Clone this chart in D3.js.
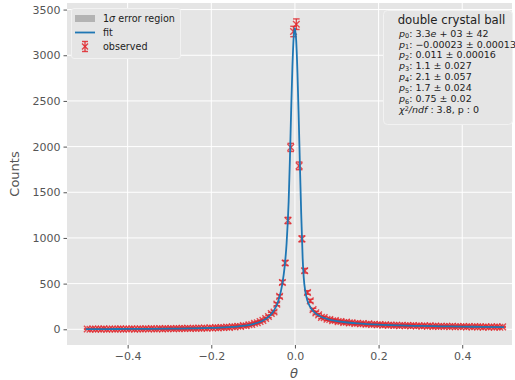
<!DOCTYPE html>
<html><head><meta charset="utf-8">
<script src="https://cdn.jsdelivr.net/npm/d3@7"></script>
<style>
body{margin:0;background:#fff}
svg{display:block;font-family:"DejaVu Sans",sans-serif}
</style>
</head><body>
<svg id="c" width="515" height="380"></svg>
<script>
// ---- data ----
const binLow = -0.5, binHigh = 0.5, nBins = 150;
const observed = [
  3, 1, 4, 2, 3, 2, 5, 1, 3, 4, 2, 3, 5, 2, 4, 3, 6, 2, 4, 5,
  3, 6, 4, 7, 5, 4, 8, 5, 7, 6, 9, 6, 8, 7, 10, 8, 11, 9, 12, 10,
  13, 11, 14, 12, 16, 14, 18, 15, 20, 19,
  24, 21, 28, 26, 33, 31, 41, 39, 50, 52, 66, 72, 85, 98, 118, 140, 172, 190, 275, 360,
  513, 726, 1191, 1991, 3260, 3340, 1789, 990, 641, 403, 311, 215, 180,
  158, 130, 128, 110, 108, 94, 96, 84, 86, 75, 78, 70, 71, 63, 66, 60, 62,
  55, 59, 52, 55, 49, 52, 46, 50, 44, 47, 43, 45, 40, 44, 39, 42, 37, 41, 36, 39,
  35, 38, 33, 37, 32, 35, 31, 34, 30, 33, 29, 32, 28, 31, 27, 31, 26, 30, 25, 29,
  26, 28, 24, 28, 23, 27, 24, 26, 22, 26
];
const fitX = [-0.5,-0.45,-0.4,-0.35,-0.3,-0.25,-0.2,-0.15,-0.12,-0.1,-0.08,-0.06,-0.05,-0.04,-0.03,-0.025,-0.02,-0.015,
  -0.012,-0.009,-0.006,-0.003,-0.0002,0.003,0.006,0.009,0.012,0.015,0.0185,0.021,0.025,0.03,0.035,0.04,0.05,0.06,0.08,0.1,0.12,
  0.15,0.2,0.25,0.3,0.35,0.4,0.45,0.5];
const fitY = [2.2,2.8,3.5,4.7,6.4,9.2,14.5,25.8,40.1,57.1,87.5,149.7,208,308,500,669,937,1401,
  1863,2402,2876,3197,3300,3161,2811,2321,1779,1266,774,568,410,312,256,219,172,143,109,90,77,
  64,50,42,36.5,32.4,29.2,26.6,24.6];
const xTicks = [-0.4, -0.2, 0.0, 0.2, 0.4];
const yTicks = [0, 500, 1000, 1500, 2000, 2500, 3000, 3500];
const legendLabels = ["error region", "fit", "observed"];
const boxTitle = "double crystal ball";
const paramValues = ["3.3e + 03 ± 42", "−0.00023 ± 0.00013", "0.011 ± 0.00016", "1.1 ± 0.027",
                     "2.1 ± 0.057", "1.7 ± 0.024", "0.75 ± 0.02"];
const chi2Text = ": 3.8, p : 0";

// ---- layout ----
const svg = d3.select("#c");
const L = 67, R = 512, T = 3, B = 345;
const x = d3.scaleLinear().domain([-0.545, 0.519]).range([L, R]);
const y = d3.scaleLinear().domain([-172, 3572]).range([B, T]);
const bw = (binHigh - binLow) / nBins;
const centers = d3.range(nBins).map(k => binLow + (k + 0.5) * bw);

svg.append("rect").attr("x", L).attr("y", T).attr("width", R - L).attr("height", B - T).attr("fill", "#e5e5e5");

// grid
svg.append("g").selectAll("line").data(xTicks).join("line")
  .attr("x1", d => x(d)).attr("x2", d => x(d)).attr("y1", T).attr("y2", B)
  .attr("stroke", "#fff").attr("stroke-width", 1);
svg.append("g").selectAll("line").data(yTicks).join("line")
  .attr("x1", L).attr("x2", R).attr("y1", d => y(d)).attr("y2", d => y(d))
  .attr("stroke", "#fff").attr("stroke-width", 1);

// axes
const xAxis = d3.axisBottom(x).tickValues(xTicks).tickFormat(d3.format(".1f")).tickSize(3.5).tickPadding(4);
const gx = svg.append("g").attr("transform", `translate(0,${B})`).call(xAxis);
const yAxis = d3.axisLeft(y).tickValues(yTicks).tickFormat(d3.format("d")).tickSize(3.5).tickPadding(3);
const gy = svg.append("g").attr("transform", `translate(${L},0)`).call(yAxis);
[gx, gy].forEach(g => {
  g.select(".domain").remove();
  g.selectAll(".tick line").attr("stroke", "#555");
  g.selectAll(".tick text").attr("fill", "#555").style("font-size", "11px").style("font-family", "DejaVu Sans");
});

svg.append("text").attr("transform", `translate(19,${(T + B) / 2}) rotate(-90)`)
  .attr("text-anchor", "middle").attr("fill", "#555").style("font-size", "13px").text("Counts");
svg.append("text").attr("x", 294).attr("y", 378).attr("text-anchor", "middle")
  .attr("fill", "#555").style("font-size", "13px").style("font-style", "italic").text("θ");

// observed points with error bars
const red = "#e0262c";
const ms = 3.3;
const pts = svg.append("g").attr("stroke", red).attr("stroke-width", 1.4).attr("stroke-opacity", 0.8).attr("fill", "none");
observed.forEach((v, k) => {
  const cx = x(centers[k]), e = Math.sqrt(v);
  const y0 = y(v), yl = y(v - e), yh = y(v + e);
  const g = pts.append("g");
  g.append("line").attr("x1", cx).attr("x2", cx).attr("y1", yl).attr("y2", yh);
  g.append("line").attr("x1", cx - ms).attr("x2", cx + ms).attr("y1", yl).attr("y2", yl);
  g.append("line").attr("x1", cx - ms).attr("x2", cx + ms).attr("y1", yh).attr("y2", yh);
  g.append("path").attr("d", `M${cx - ms},${y0 - ms}L${cx + ms},${y0 + ms}M${cx - ms},${y0 + ms}L${cx + ms},${y0 - ms}`);
});

// fit line
const fitData = fitX.map((v, i) => [v, fitY[i]]);
svg.append("path").datum(fitData)
  .attr("d", d3.line().x(d => x(d[0])).y(d => y(d[1])).curve(d3.curveMonotoneX))
  .attr("fill", "none").attr("stroke", "#1f77b4").attr("stroke-width", 1.8);

// legend
const lg = svg.append("g");
lg.append("rect").attr("x", 71.5).attr("y", 8.5).attr("width", 109).attr("height", 50).attr("rx", 2.5)
  .attr("fill", "#e5e5e5").attr("stroke", "#f2f2f2");
const rows = [18.5, 32.5, 46.5];
lg.append("rect").attr("x", 75).attr("y", rows[0] - 3.5).attr("width", 20).attr("height", 7).attr("fill", "#b3b3b3");
lg.append("line").attr("x1", 75).attr("x2", 95).attr("y1", rows[1]).attr("y2", rows[1]).attr("stroke", "#1f77b4").attr("stroke-width", 1.8);
const lm = lg.append("g").attr("stroke", red).attr("stroke-width", 1.4).attr("stroke-opacity", 0.85);
lm.append("line").attr("x1", 85).attr("x2", 85).attr("y1", rows[2] - 5).attr("y2", rows[2] + 5);
lm.append("line").attr("x1", 82).attr("x2", 88).attr("y1", rows[2] - 5).attr("y2", rows[2] - 5);
lm.append("line").attr("x1", 82).attr("x2", 88).attr("y1", rows[2] + 5).attr("y2", rows[2] + 5);
lm.append("path").attr("d", `M82,${rows[2] - 3}L88,${rows[2] + 3}M82,${rows[2] + 3}L88,${rows[2] - 3}`);
const lt = lg.append("g").style("font-size", "9.6px").attr("fill", "#222");
const t0 = lt.append("text").attr("x", 103).attr("y", rows[0]).attr("dy", "0.35em");
t0.append("tspan").text("1");
t0.append("tspan").style("font-style", "italic").text("σ");
t0.append("tspan").text(" " + legendLabels[0]);
lt.append("text").attr("x", 103).attr("y", rows[1]).attr("dy", "0.35em").text(legendLabels[1]);
lt.append("text").attr("x", 103).attr("y", rows[2]).attr("dy", "0.35em").text(legendLabels[2]);

// parameter box
const bx = svg.append("g");
bx.append("rect").attr("x", 383.5).attr("y", 10.5).attr("width", 129).attr("height", 114).attr("rx", 4)
  .attr("fill", "#e5e5e5").attr("stroke", "#f2f2f2");
bx.append("text").attr("x", 451.5).attr("y", 24).attr("text-anchor", "middle").attr("fill", "#222")
  .style("font-size", "11.7px").text(boxTitle);
const pt = bx.append("g").style("font-size", "9.5px").attr("fill", "#222");
paramValues.forEach((s, i) => {
  const t = pt.append("text").attr("x", 399).attr("y", 33.3 + i * 10.9).attr("dy", "0.35em");
  t.append("tspan").style("font-style", "italic").text("p");
  t.append("tspan").attr("dy", "1.5").style("font-size", "6.5px").text(String(i));
  const parts = s.split("e");
  t.append("tspan").attr("dy", "-1.5").text(": " + parts[0]);
  if (parts.length > 1) {
    t.append("tspan").style("font-style", "italic").text("e");
    t.append("tspan").text(parts[1]);
  }
});
const ct = pt.append("text").attr("x", 399).attr("y", 33.6 + 7 * 10.9).attr("dy", "0.35em");
ct.append("tspan").style("font-style", "italic").text("χ");
ct.append("tspan").attr("dy", "-2.5").style("font-size", "6.5px").text("2");
ct.append("tspan").attr("dy", "2.5").style("font-style", "italic").text("/ndf");
ct.append("tspan").text(" " + chi2Text);
</script>
</body></html>
